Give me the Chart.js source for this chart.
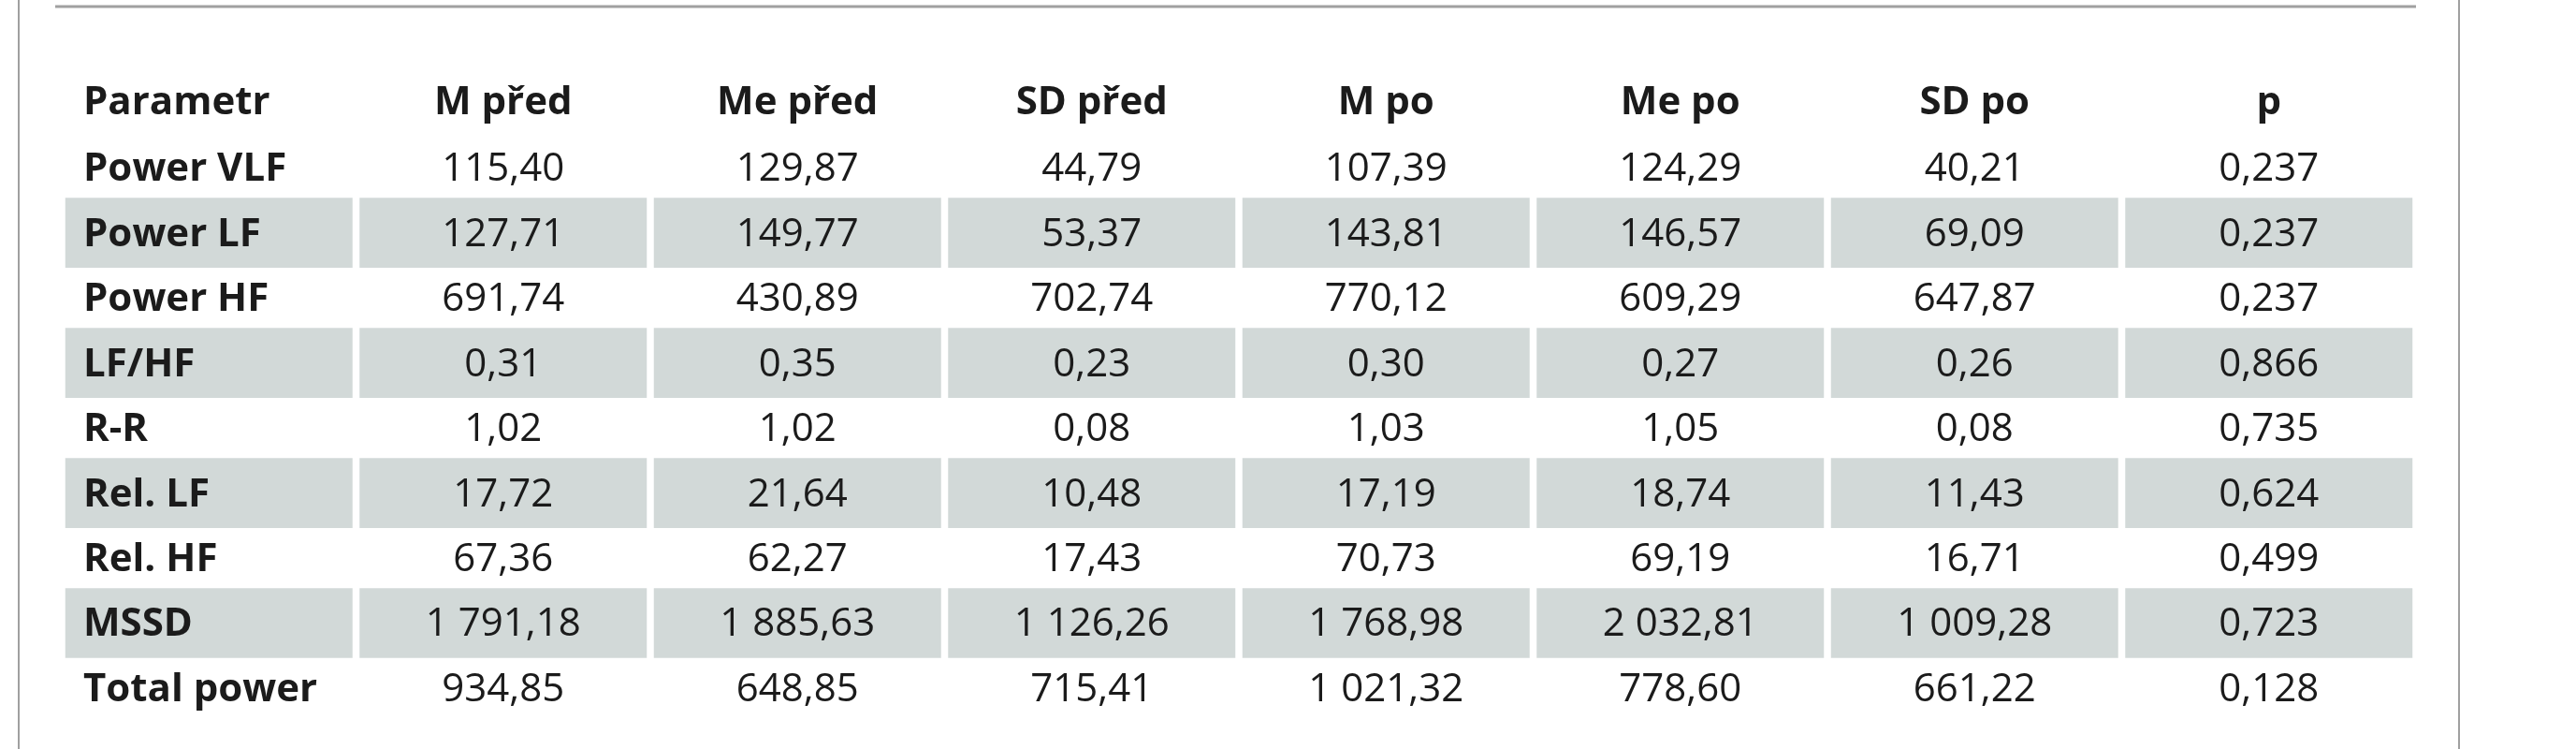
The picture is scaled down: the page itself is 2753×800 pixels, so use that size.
<!DOCTYPE html>
<html>
<head>
<meta charset="utf-8">
<script src="https://cdn.jsdelivr.net/npm/chart.js@4"></script>
<style>
  html, body { margin: 0; padding: 0; background: #fff; }
  #wrap { width: 2753px; height: 800px; }
</style>
</head>
<body>
<div id="wrap"><canvas id="tbl" width="2753" height="800"></canvas></div>
<script>
const columns = ['Parametr', 'M před', 'Me před', 'SD před', 'M po', 'Me po', 'SD po', 'p'];
const rowNames = ['Power VLF', 'Power LF', 'Power HF', 'LF/HF', 'R-R', 'Rel. LF', 'Rel. HF', 'MSSD', 'Total power'];
const mPred  = ['115,40', '127,71', '691,74', '0,31', '1,02', '17,72', '67,36', '1 791,18', '934,85'];
const mePred = ['129,87', '149,77', '430,89', '0,35', '1,02', '21,64', '62,27', '1 885,63', '648,85'];
const sdPred = ['44,79', '53,37', '702,74', '0,23', '0,08', '10,48', '17,43', '1 126,26', '715,41'];
const mPo    = ['107,39', '143,81', '770,12', '0,30', '1,03', '17,19', '70,73', '1 768,98', '1 021,32'];
const mePo   = ['124,29', '146,57', '609,29', '0,27', '1,05', '18,74', '69,19', '2 032,81', '778,60'];
const sdPo   = ['40,21', '69,09', '647,87', '0,26', '0,08', '11,43', '16,71', '1 009,28', '661,22'];
const pVals  = ['0,237', '0,237', '0,237', '0,866', '0,735', '0,624', '0,499', '0,723', '0,128'];
const shadedRows = [2, 4, 6, 8]; // 1-based row numbers under the header

const valueCols = [rowNames, mPred, mePred, sdPred, mPo, mePo, sdPo, pVals];
const FONT = '"Liberation Sans Narrow", "Arial Narrow", "Open Sans", sans-serif';

// one floating-bar dataset per column, only on shaded rows
const cellSets = columns.map((c, ci) => ({
  label: c,
  data: shadedRows.map(r => ({ x: [ci + 0.013, ci + 0.987], y: r })),
  backgroundColor: '#d2d9d8',
  borderWidth: 0,
  grouped: false,
  barThickness: 74
}));

const textPlugin = {
  id: 'tableText',
  beforeDraw(chart) {
    const ctx = chart.ctx;
    ctx.save();
    ctx.strokeStyle = '#a0a0a0';
    ctx.lineWidth = 3;
    ctx.beginPath();
    ctx.moveTo(59, 7); ctx.lineTo(2582, 7);
    ctx.stroke();
    ctx.lineWidth = 2;
    ctx.beginPath();
    ctx.moveTo(20, 0); ctx.lineTo(20, 800);
    ctx.moveTo(2628, 0); ctx.lineTo(2628, 800);
    ctx.stroke();
    ctx.restore();
  },
  afterDatasetsDraw(chart) {
    const ctx = chart.ctx;
    const xs = chart.scales.x, ys = chart.scales.y;
    ctx.save();
    ctx.fillStyle = '#1b1b1b';
    ctx.textBaseline = 'middle';
    columns.forEach((c, ci) => {
      ctx.font = 'bold 42px ' + FONT;
      const xc = ci === 0 ? xs.getPixelForValue(0) + 23 : xs.getPixelForValue(ci + 0.5);
      ctx.textAlign = ci === 0 ? 'left' : 'center';
      ctx.fillText(c, xc, ys.getPixelForValue(0));
      valueCols[ci].forEach((v, ri) => {
        ctx.font = (ci === 0 ? 'bold ' : '') + '42px ' + FONT;
        ctx.fillText(v, xc, ys.getPixelForValue(ri + 1) + 2);
      });
    });
    ctx.restore();
  }
};

new Chart(document.getElementById('tbl'), {
  type: 'bar',
  data: { datasets: cellSets },
  options: {
    indexAxis: 'y',
    responsive: false,
    animation: false,
    layout: { padding: { left: 66, right: 171, top: 42, bottom: 32 } },
    scales: {
      x: { type: 'linear', min: 0, max: 8, display: false },
      y: { type: 'linear', min: -0.5, max: 9, reverse: true, display: false }
    },
    plugins: { legend: { display: false }, tooltip: { enabled: false } }
  },
  plugins: [textPlugin]
});
</script>
</body>
</html>
